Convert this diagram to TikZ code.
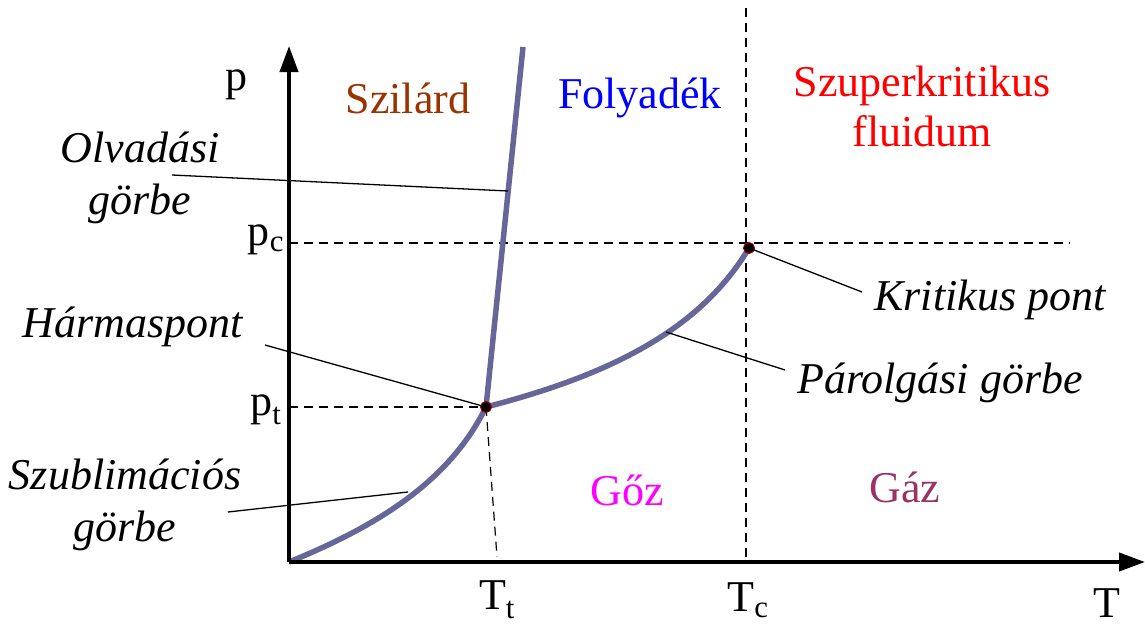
\documentclass[tikz,border=0pt]{standalone}
\usepackage{fontspec}
\setmainfont{Liberation Serif}
\usetikzlibrary{arrows.meta}
\definecolor{curve}{RGB}{102,102,153}
\definecolor{brownish}{RGB}{153,51,0}
\definecolor{gazcol}{RGB}{153,51,102}
\definecolor{gozcol}{RGB}{255,0,255}
\definecolor{folycol}{RGB}{0,0,255}
\definecolor{szupcol}{RGB}{255,0,0}
\begin{document}
\begin{tikzpicture}[x=1pt,y=-1pt,
  lbl/.style={font=\fontsize{44}{50}\selectfont, inner sep=0pt, align=center},
  ilbl/.style={font=\fontsize{44}{52}\selectfont\itshape, inner sep=0pt, align=center},
  axis/.style={line width=4pt, -{Triangle[length=26pt,width=18pt]}},
  curveline/.style={line width=5.5pt, color=curve},
  guide/.style={dashed, dash pattern=on 9pt off 6pt, line width=1.2pt},
  pointer/.style={line width=1.3pt},
  dot/.style={circle, fill=black, draw=red!60!black, line width=1pt, minimum size=11pt, inner sep=0pt}
]
\useasboundingbox (0,0) rectangle (1145,626);
% coordinates
\coordinate (O) at (289,562);
\coordinate (ytip) at (289,46);
\coordinate (xtip) at (1145,562);
\coordinate (mtop) at (523,47);
\coordinate (pcend) at (1070,243);
\coordinate (tctop) at (746,8);
\coordinate (tcbot) at (746,557);
\coordinate (tcleft) at (289,243);
\coordinate (ptleft) at (289,407);
\coordinate (ttbot) at (497,557);
% dashed guides
\draw[guide] (tcleft) -- (pcend);
\draw[guide] (tctop) -- (tcbot);
\draw[guide] (ptleft) -- (486,407);
\draw[guide] (486,407) -- (ttbot);
% curves
\draw[curveline] (O) .. controls (380,525) and (450,480) .. (486,407);
\draw[curveline] (486,407) -- (mtop);
\draw[curveline] (486,407) .. controls (610,375) and (700,330) .. (749,248);
% axes
\draw[axis] (O) -- (ytip);
\draw[axis] (O) -- (xtip);
% points
\node[dot] (tp) at (486,407) {};
\node[dot] (cp) at (749,248) {};
% axis labels
\node[lbl] (p) at (236,85) {p};
\node[lbl] (pc) at (266,240) {p\textsubscript{c}};
\node[lbl] (pt) at (266,410) {p\textsubscript{t}};
\node[lbl] (Tt) at (497,600) {T\textsubscript{t}};
\node[lbl] (Tc) at (748,600) {T\textsubscript{c}};
\node[lbl] (T) at (1107,603) {T};
% region labels
\node[lbl, text=brownish] (szil) at (408,98) {Szilárd};
\node[lbl, text=folycol] (foly) at (640,98) {Folyadék};
\node[lbl, text=szupcol] (szup) at (922,106) {Szuperkritikus\\fluidum};
\node[lbl, text=gozcol] (goz) at (627,490) {Gőz};
\node[lbl, text=gazcol] (gaz) at (905,487) {Gáz};
% italic labels
\node[ilbl] (olv) at (140,178) {Olvadási\\görbe};
\node[ilbl] (harm) at (133,327) {Hármaspont};
\node[ilbl] (szub) at (125,505) {Szublimációs\\görbe};
\node[ilbl] (krit) at (990,300) {Kritikus pont};
\node[ilbl] (parol) at (940,383) {Párolgási görbe};
% pointer anchors
\coordinate (olvA) at (172,175);
\coordinate (olvB) at (508,191);
\coordinate (harmA) at (265,345);
\coordinate (szubA) at (228,512);
\coordinate (szubB) at (408,492);
\coordinate (kritB) at (862,292);
\coordinate (parA) at (666,332);
\coordinate (parB) at (785,370);
\draw[pointer] (olvA) -- (olvB);
\draw[pointer] (harmA) -- (tp.center);
\draw[pointer] (szubA) -- (szubB);
\draw[pointer] (cp.center) -- (kritB);
\draw[pointer] (parA) -- (parB);
\end{tikzpicture}
\end{document}
